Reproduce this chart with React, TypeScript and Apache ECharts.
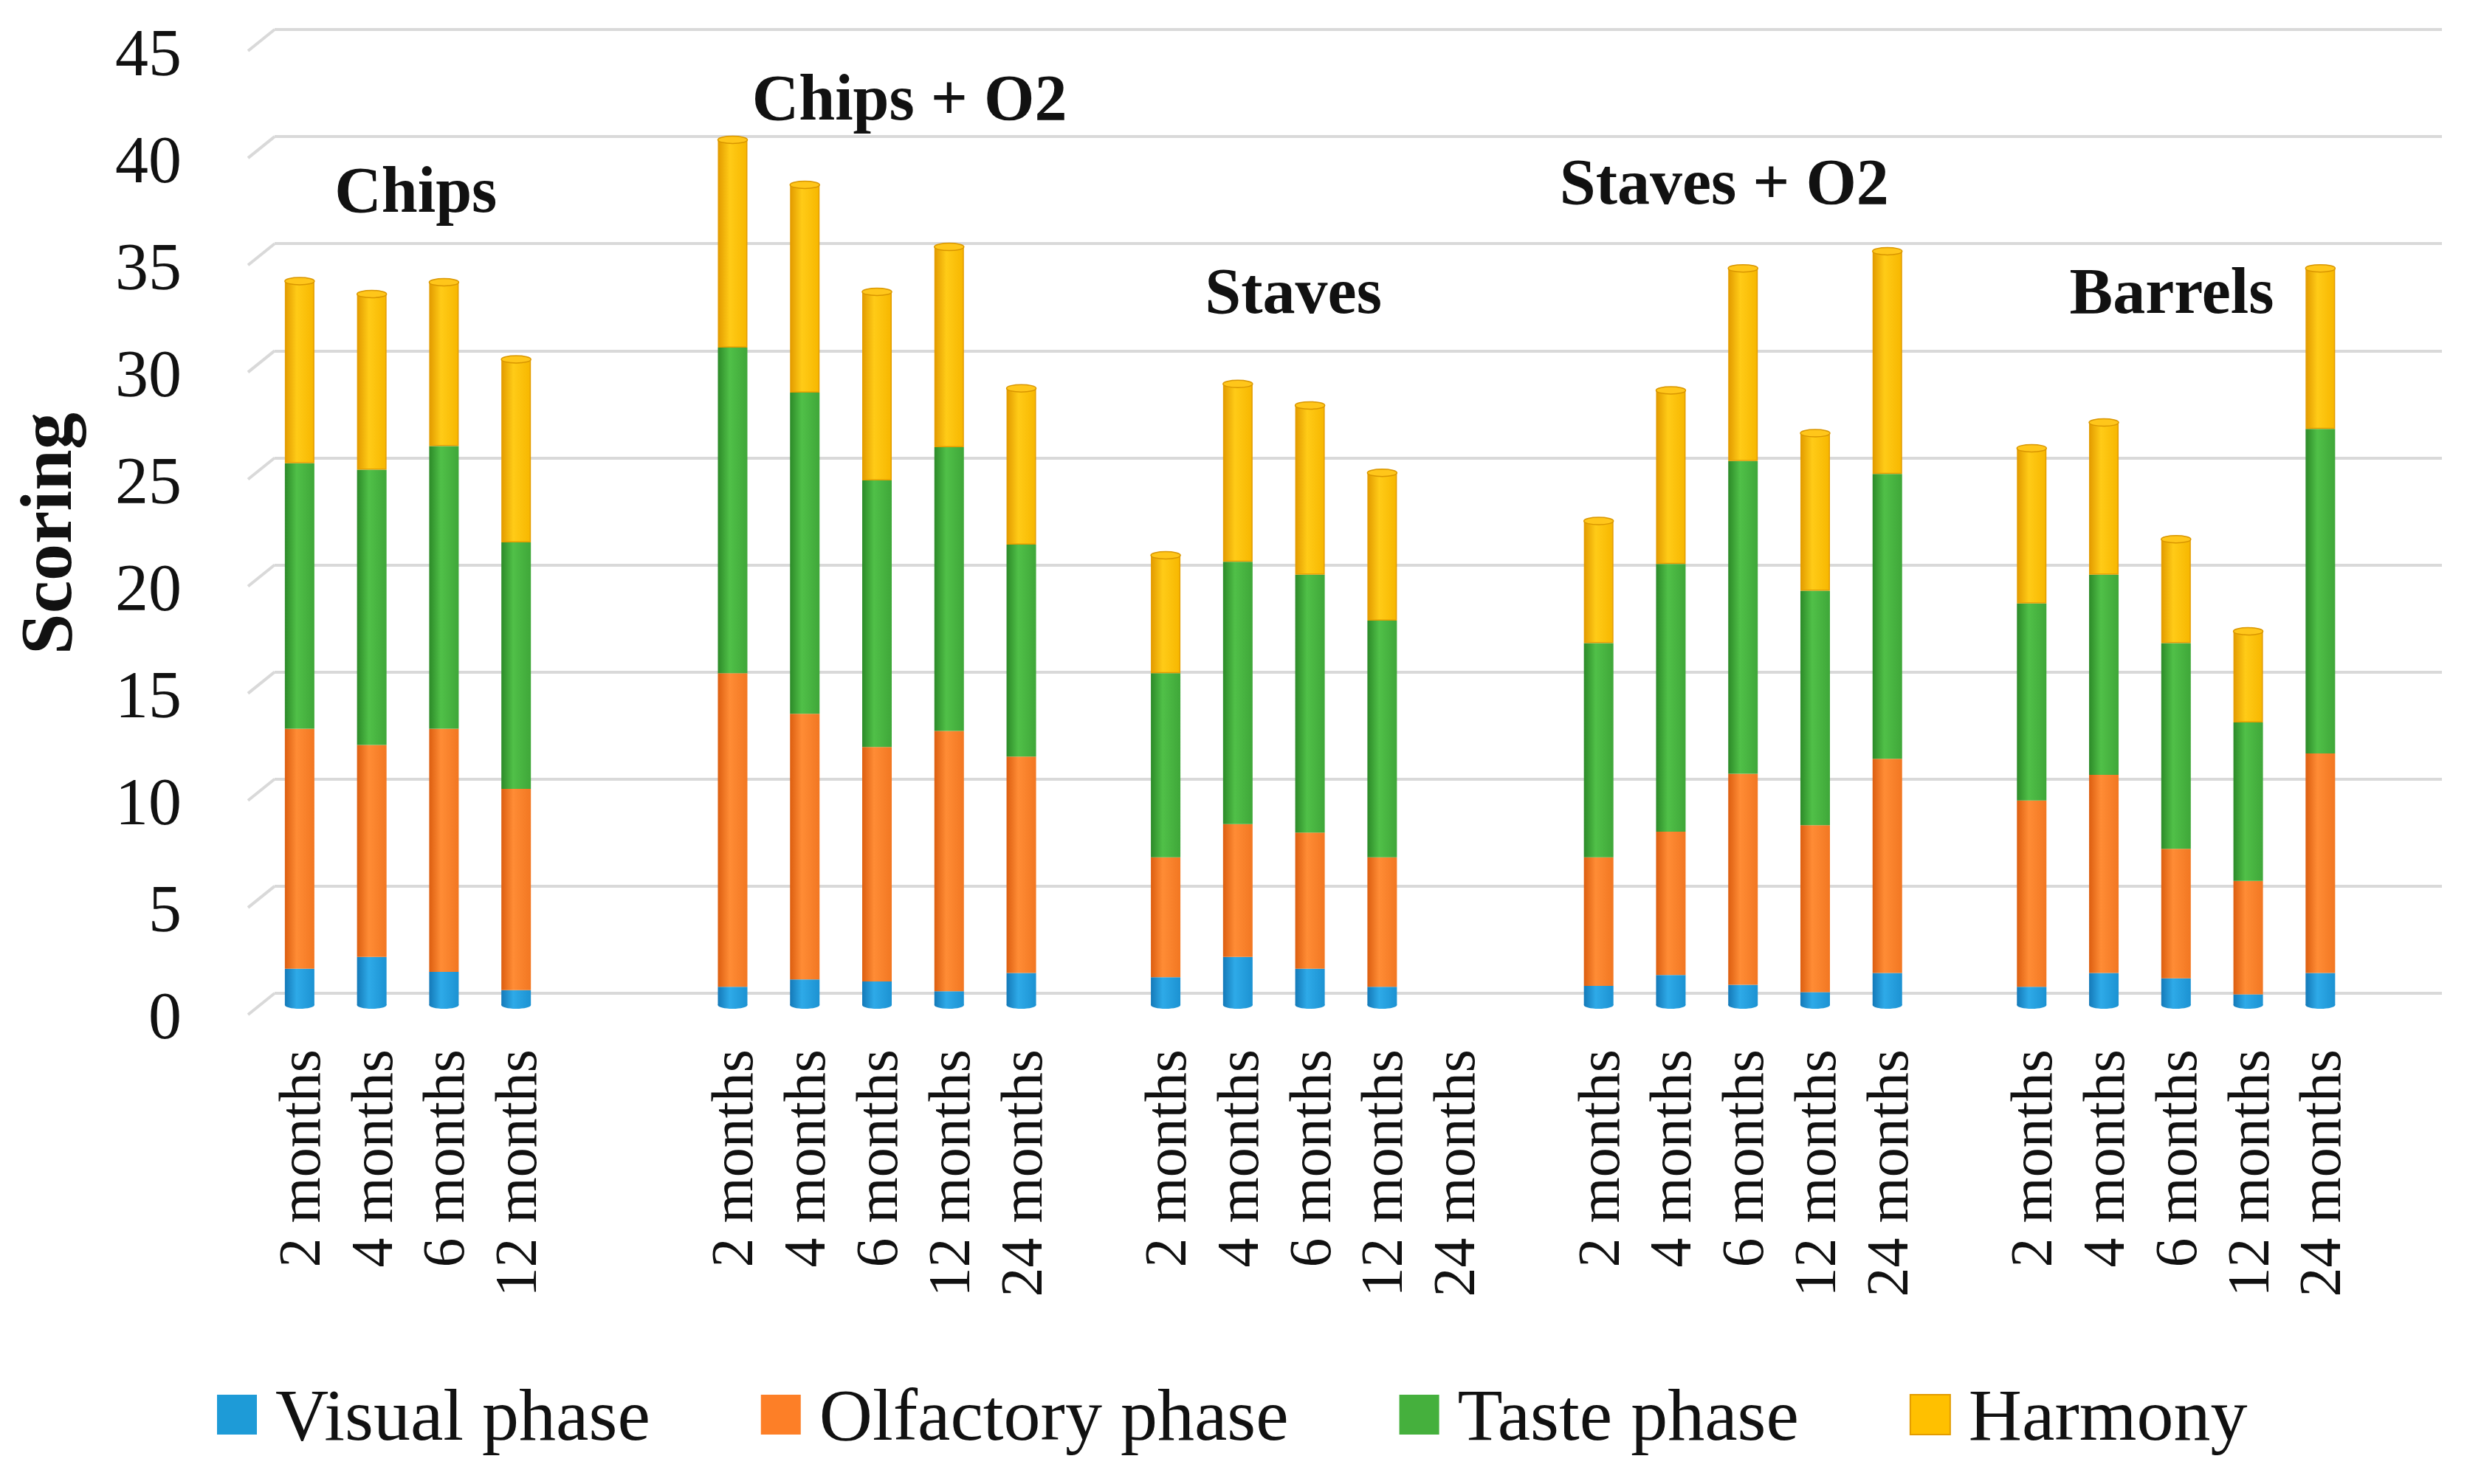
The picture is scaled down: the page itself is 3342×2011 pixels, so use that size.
import React, { useEffect, useRef } from "react";
import * as echarts from "echarts";

const FONT = "'Liberation Serif', 'Times New Roman', serif";

// category slots (30): empty slots are spacing between groups
const xLabels = [
  "2 months", "4 months", "6 months", "12 months", "", "",
  "2 months", "4 months", "6 months", "12 months", "24 months", "",
  "2 months", "4 months", "6 months", "12 months", "24 months", "",
  "2 months", "4 months", "6 months", "12 months", "24 months", "",
  "2 months", "4 months", "6 months", "12 months", "24 months", "",
];
const categories = xLabels.map((_, i) => "slot" + i);

const seriesNames = ["Visual phase", "Olfactory phase", "Taste phase", "Harmony"];

const visual = [1.7, 2.25, 1.55, 0.7, null, null, 0.85, 1.2, 1.1, 0.65, 1.5, null, 1.3, 2.25, 1.7, 0.85, null, null, 0.9, 1.4, 0.95, 0.6, 1.5, null, 0.85, 1.5, 1.25, 0.5, 1.5, null];
const olfactory = [11.2, 9.9, 11.35, 9.4, null, null, 14.65, 12.4, 10.95, 12.15, 10.1, null, 5.6, 6.2, 6.35, 6.05, null, null, 6.0, 6.7, 9.85, 7.8, 10.0, null, 8.7, 9.25, 6.05, 5.3, 10.25, null];
const taste = [12.4, 12.85, 13.2, 11.5, null, null, 15.2, 15.0, 12.45, 13.25, 9.9, null, 8.6, 12.25, 12.05, 11.05, null, null, 10.0, 12.5, 14.6, 10.95, 13.3, null, 9.2, 9.35, 9.6, 7.4, 15.15, null];
const harmony = [8.5, 8.2, 7.65, 8.55, null, null, 9.7, 9.7, 8.8, 9.35, 7.3, null, 5.5, 8.3, 7.9, 6.9, null, null, 5.7, 8.1, 9.0, 7.35, 10.4, null, 7.25, 7.1, 4.85, 4.25, 7.5, null];

const groupNames = ["Chips", "Chips + O2", "Staves", "Staves + O2", "Barrels"];
const groupLabelX = [1.61, 8.45, 13.77, 19.74, 25.94];
const groupLabelY = [38.06, 42.37, 33.34, 38.44, 33.34];

const yTicks = [0, 5, 10, 15, 20, 25, 30, 35, 40, 45];

const palette = [
  { flat: "#1E9BD7", dark: "#1479B8", light: "#2EAAE8", mid: "#1C92D2" },
  { flat: "#FD7F27", dark: "#DC5E10", light: "#FF8C35", mid: "#F27722" },
  { flat: "#45B03D", dark: "#2C8A28", light: "#50C048", mid: "#3FA739" },
  { flat: "#FFC000", dark: "#E39C00", light: "#FFCB17", mid: "#F7B700" },
];

function grad(p: any) {
  return new echarts.graphic.LinearGradient(0, 0, 1, 0, [
    { offset: 0, color: p.dark },
    { offset: 0.4, color: p.light },
    { offset: 1, color: p.mid },
  ]);
}

export default function App() {
  const ref = useRef<HTMLDivElement>(null);

  useEffect(() => {
    if (!ref.current) return;
    const chart = echarts.init(ref.current, undefined, { renderer: "svg" });
    const values = [visual, olfactory, taste, harmony];
    const totals = xLabels.map((_, i) =>
      visual[i] == null ? null : (visual[i] as number) + (olfactory[i] as number) + (taste[i] as number) + (harmony[i] as number)
    );
    const capData: any[] = [];
    const baseData: any[] = [];
    totals.forEach((t, i) => {
      if (t != null) {
        capData.push([i, t]);
        baseData.push([i, 0]);
      }
    });
    const BAR_W = 40;

    const option: any = {
      animation: false,
      backgroundColor: "#ffffff",
      grid: [
        { left: 357, top: 56, width: 2933, height: 1306, outerBoundsMode: "none" },
        { left: 372, top: 40, width: 2936, height: 1306, outerBoundsMode: "none" },
        { left: 337, top: 71, width: 100, height: 1305, outerBoundsMode: "none" },
      ],
      xAxis: [
        {
          type: "category",
          gridIndex: 0,
          data: categories,
          axisLine: { show: false },
          axisTick: { show: false },
          axisLabel: {
            interval: 0,
            rotate: 90,
            margin: 60,
            fontSize: 80,
            fontFamily: FONT,
            color: "#111",
            formatter: (_v: string, i: number) => xLabels[i],
          },
        },
        { type: "value", gridIndex: 0, min: -0.5, max: 29.5, show: false },
        { type: "value", gridIndex: 1, min: 0, max: 1, show: false },
        { type: "value", gridIndex: 2, min: 0, max: 1, show: false },
      ],
      yAxis: [
        { type: "value", gridIndex: 0, min: 0, max: 45, interval: 5, show: false },
        {
          type: "value",
          gridIndex: 1,
          min: 0,
          max: 45,
          interval: 5,
          axisLine: { show: false },
          axisTick: { show: false },
          axisLabel: { show: false },
          splitLine: { show: true, lineStyle: { color: "#d9d9d9", width: 4 } },
        },
        {
          type: "value",
          gridIndex: 2,
          min: 0,
          max: 45,
          interval: 5,
          axisLine: { show: false },
          axisTick: { show: false },
          splitLine: { show: false },
          axisLabel: { margin: 91, fontSize: 90, fontFamily: FONT, color: "#111" },
        },
      ],
      legend: {
        left: 289,
        top: 1862,
        itemWidth: 54,
        itemHeight: 54,
        itemGap: 150,
        icon: "rect",
        textStyle: { fontSize: 100, fontFamily: FONT, color: "#111", padding: [0, 0, 0, 20] },
        data: seriesNames.map((n, i) => ({ name: n, itemStyle: { color: palette[i].flat } })),
      },
      graphic: [
        {
          type: "text",
          x: 62,
          y: 723,
          rotation: Math.PI / 2,
          style: {
            text: "Scoring",
            fontSize: 100,
            fontWeight: "bold",
            fontFamily: FONT,
            fill: "#111",
            align: "center",
            verticalAlign: "middle",
          },
        },
      ],
      series: [
        ...seriesNames.map((n, si) => ({
          name: n,
          type: "bar",
          stack: "total",
          xAxisIndex: 0,
          yAxisIndex: 0,
          barWidth: BAR_W,
          data: values[si],
          itemStyle: {
            color: grad(palette[si]),
            borderColor: palette[si].dark,
            borderWidth: si === 3 ? 1.5 : 0,
          },
          z: 2,
        })),
        {
          type: "custom",
          name: "caps",
          xAxisIndex: 0,
          yAxisIndex: 0,
          z: 3,
          data: capData,
          renderItem: (_p: any, api: any) => {
            const pt = api.coord([api.value(0), api.value(1)]);
            return {
              type: "ellipse",
              shape: { cx: pt[0], cy: pt[1], rx: BAR_W / 2, ry: 5 },
              style: { fill: "#FFC61A", stroke: "#D99600", lineWidth: 1.5 },
            };
          },
        },
        {
          type: "custom",
          name: "bases",
          xAxisIndex: 0,
          yAxisIndex: 0,
          z: 3,
          data: baseData,
          renderItem: (_p: any, api: any) => {
            const pt = api.coord([api.value(0), api.value(1)]);
            return {
              type: "ellipse",
              shape: { cx: pt[0], cy: pt[1], rx: BAR_W / 2, ry: 5 },
              style: { fill: grad(palette[0]) },
            };
          },
        },
        {
          type: "custom",
          name: "slants",
          xAxisIndex: 2,
          yAxisIndex: 1,
          z: 1,
          data: yTicks.map((v) => [0, v]),
          renderItem: (_p: any, api: any) => {
            const pt = api.coord([0, api.value(1)]);
            return {
              type: "line",
              shape: { x1: pt[0], y1: pt[1], x2: pt[0] - 36, y2: pt[1] + 29 },
              style: { stroke: "#d9d9d9", lineWidth: 4 },
            };
          },
        },
        {
          type: "custom",
          name: "groups",
          xAxisIndex: 1,
          yAxisIndex: 0,
          z: 4,
          data: groupLabelX.map((x, i) => [x, groupLabelY[i]]),
          renderItem: (p: any, api: any) => {
            const pt = api.coord([api.value(0), api.value(1)]);
            return {
              type: "text",
              x: pt[0],
              y: pt[1],
              style: {
                text: groupNames[p.dataIndex],
                fontSize: 88,
                fontWeight: "bold",
                fontFamily: FONT,
                fill: "#111",
                align: "center",
                verticalAlign: "middle",
              },
            };
          },
        },
      ],
    };
    chart.setOption(option);
    return () => chart.dispose();
  }, []);

  return (
    <div
      ref={ref}
      style={{ position: "fixed", left: 0, top: 0, width: 3342, height: 2011, background: "#fff" }}
    />
  );
}
